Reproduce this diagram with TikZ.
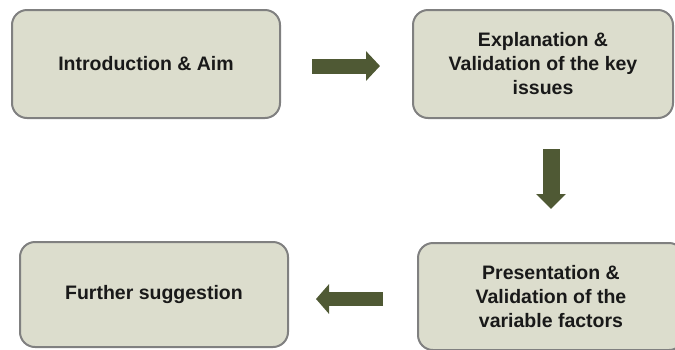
\documentclass[tikz,border=0pt]{standalone}
\usepackage{fontspec}
\setmainfont{Liberation Sans}
\usetikzlibrary{arrows.meta}
\definecolor{boxfill}{RGB}{220,221,205}
\definecolor{boxdraw}{RGB}{128,128,128}
\definecolor{arrowcol}{RGB}{79,89,52}
\tikzset{
  stepbox/.style={draw=boxdraw, line width=2pt, fill=boxfill, rounded corners=15pt,
    align=center, font=\fontsize{19.5}{24}\selectfont\bfseries, text=black!90,
    inner sep=0pt},
  bigarrow/.style={draw=arrowcol, line cap=butt,
    -{Triangle[length=#1, width=29pt]}},
}
\begin{document}
\begin{tikzpicture}[x=1pt,y=-1pt]
\useasboundingbox (0,0) rectangle (675,349);
\begin{scope}
\clip (0,0) rectangle (675,349);
\node[stepbox, minimum width=268pt, minimum height=108pt] (b1) at (146,64) {Introduction \& Aim};
\node[stepbox, minimum width=260pt, minimum height=108pt] (b2) at (543,64) {Explanation \&\\Validation of the key\\issues};
\node[stepbox, minimum width=266pt, minimum height=107pt] (b3) at (551,296.5) {Presentation \&\\Validation of the\\variable factors};
\node[stepbox, minimum width=268pt, minimum height=105pt] (b4) at (154,294.5) {Further suggestion};
\end{scope}
\draw[bigarrow=14pt, line width=15pt, shorten <=31pt, shorten >=32pt] ([yshift=-2pt]b1.east) -- ([yshift=-2pt]b2.west |- b1.east);
\draw[bigarrow=15pt, line width=17pt, shorten <=30pt, shorten >=33pt] (b3.north |- b2.south) -- (b3.north);
\draw[bigarrow=13pt, line width=14pt, shorten <=34pt, shorten >=27pt] ([yshift=-2.5pt]b3.west) -- ([yshift=-2.5pt]b4.east |- b3.west);
\end{tikzpicture}
\end{document}
